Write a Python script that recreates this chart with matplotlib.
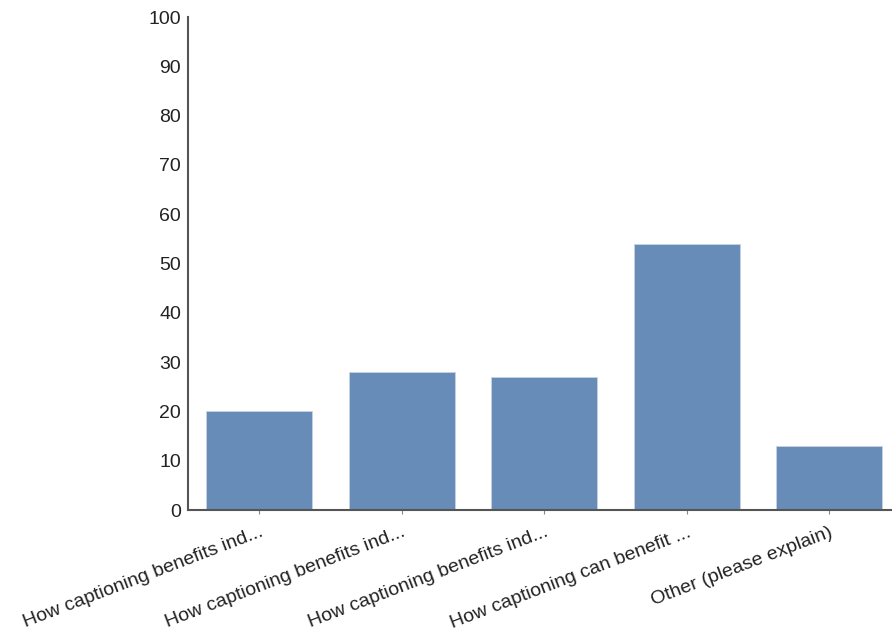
import matplotlib
matplotlib.use('Agg')
import matplotlib.pyplot as plt

categories = ['How captioning benefits ind...', 'How captioning benefits ind...',
              'How captioning benefits ind...', 'How captioning can benefit ...',
              'Other (please explain)']
values = [20, 28, 27, 54, 13]
yticks = list(range(0, 101, 10))

plt.rcParams['font.family'] = ['Liberation Sans', 'DejaVu Sans']

fig = plt.figure(figsize=(8.92, 6.33), dpi=100)
ax = fig.add_axes([0.2108, 0.1943, 0.7988, 0.7788])

x = range(len(categories))
ax.bar(x, values, width=0.745, color='#678cb8', edgecolor='#c8d3e0', linewidth=0.6)

ax.set_xlim(-0.5, len(categories) - 0.5)
ax.set_ylim(0, 100)
ax.set_yticks(yticks)
ax.set_yticklabels([str(t) for t in yticks], fontsize=14, color='#222222')
ax.tick_params(axis='y', length=0, pad=5)
ax.set_xticks(list(x))
ax.set_xticklabels(categories, rotation=21, ha='right', rotation_mode='anchor',
                   fontsize=14, color='#222222')
ax.tick_params(axis='x', length=3, color='#888888', pad=7)

for side in ['top', 'right']:
    ax.spines[side].set_visible(False)
for side in ['left', 'bottom']:
    ax.spines[side].set_color('#555555')
    ax.spines[side].set_linewidth(1.5)

fig.savefig('out.png', dpi=100)
